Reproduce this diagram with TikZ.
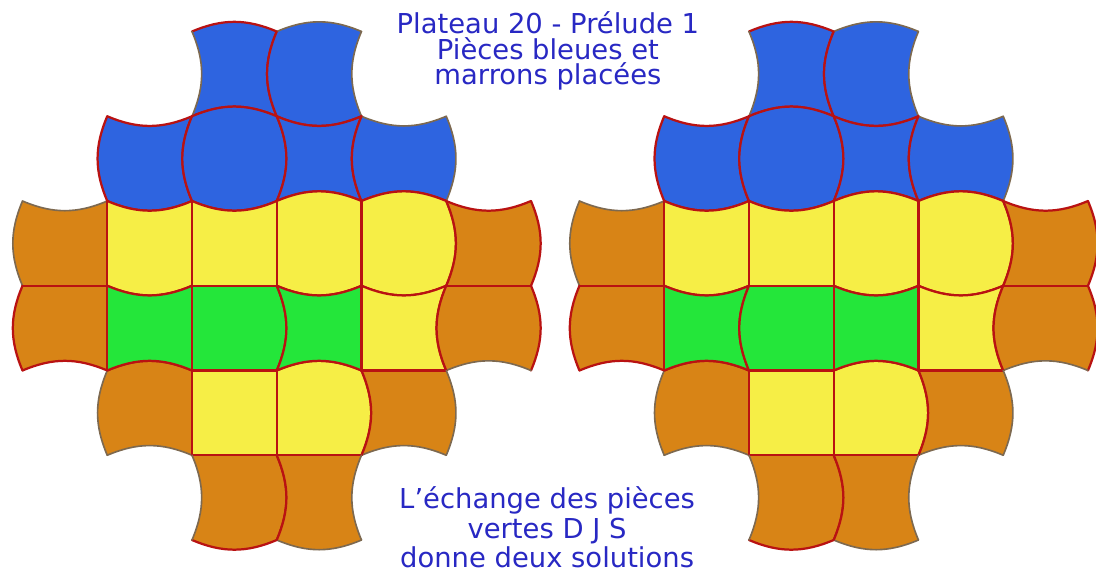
\documentclass[tikz,border=0pt]{standalone}
\usepackage{fontspec}
\setmainfont{DejaVu Sans}
\usepackage{xcolor}
\usepackage{tikz}
\definecolor{tileblue}{RGB}{46,100,224}
\definecolor{tileyellow}{RGB}{246,238,70}
\definecolor{tilegreen}{RGB}{36,230,58}
\definecolor{tilebrown}{RGB}{216,132,22}
\definecolor{edgered}{RGB}{185,18,18}
\definecolor{rimgrey}{RGB}{125,105,80}
\definecolor{textblue}{RGB}{40,40,195}
\tikzset{
	vx/.style={bend left=23},
	cc/.style={bend right=23},
	st/.style={},
	rim/.style={},
	blu/.style={fill=tileblue},
	yel/.style={fill=tileyellow},
	grn/.style={fill=tilegreen},
	brn/.style={fill=tilebrown},
	seam/.style={draw=edgered, line width=0.75pt, line cap=round},
	txt/.style={text=textblue, align=center, inner sep=0pt},
}
% #1,#2 top-left corner, #3 colour, #4..#7 top, right, bottom, left
\newcommand{\tuile}[7]{%
	\fill[#3] (#1,#2) to[#4] ++(1,0) to[#5] ++(0,-1) to[#6] ++(-1,0) to[#7] ++(0,1) -- cycle;
	\draw[seam, rim/.style={draw=rimgrey, line width=0.55pt}, #4] (#1,#2) to ++(1,0);
	\draw[seam, rim/.style={draw=rimgrey, line width=0.55pt}, #5] (#1+1,#2) to ++(0,-1);
	\draw[seam, rim/.style={draw=rimgrey, line width=0.55pt}, #6] (#1+1,#2-1) to ++(-1,0);
	\draw[seam, rim/.style={draw=rimgrey, line width=0.55pt}, #7] (#1,#2-1) to ++(0,1);
}
% pieces common to both boards
\newcommand{\communes}{%
	\tuile{2}{6}{blu}{vx}{cc}{cc}{cc,rim}
	\tuile{3}{6}{blu}{vx,rim}{cc,rim}{vx}{vx}
	\tuile{1}{5}{blu}{cc}{cc}{vx}{vx}
	\tuile{2}{5}{blu}{vx}{vx}{vx}{vx}
	\tuile{3}{5}{blu}{cc}{cc}{cc}{cc}
	\tuile{4}{5}{blu}{cc,rim}{vx,rim}{cc}{vx}
	\tuile{0}{4}{brn}{cc,rim}{st}{st}{vx,rim}
	\tuile{1}{4}{yel}{cc}{st}{vx}{st}
	\tuile{2}{4}{yel}{cc}{st}{st}{st}
	\tuile{3}{4}{yel}{vx}{st}{vx}{st}
	\tuile{4}{4}{yel}{vx}{vx}{vx}{st}
	\tuile{5}{4}{brn}{cc}{vx}{st}{cc}
	\tuile{0}{3}{brn}{st}{st}{cc}{vx}
	\tuile{4}{3}{yel}{cc}{cc}{st}{st}
	\tuile{5}{3}{brn}{st}{vx}{cc,rim}{vx}
	\tuile{1}{2}{brn}{vx}{st}{cc,rim}{vx,rim}
	\tuile{2}{2}{yel}{st}{st}{st}{st}
	\tuile{3}{2}{yel}{vx}{vx}{st}{st}
	\tuile{4}{2}{brn}{st}{vx,rim}{cc,rim}{cc}
	\tuile{2}{1}{brn}{st}{vx}{vx}{cc,rim}
	\tuile{3}{1}{brn}{st}{cc,rim}{vx,rim}{cc}
}

\begin{document}
\begin{tikzpicture}[x=1cm, y=1cm]
	\useasboundingbox (-0.2655,-0.472) rectangle (12.667,6.372);
	% first solution
	\begin{scope}
		\communes
		\tuile{1}{3}{grn}{cc}{st}{cc}{st}
		\tuile{2}{3}{grn}{st}{vx}{st}{st}
		\tuile{3}{3}{grn}{cc}{st}{cc}{cc}
	\end{scope}
	% second solution, green pieces exchanged
	\begin{scope}[xshift=6.572cm]
		\communes
		\tuile{1}{3}{grn}{cc}{cc}{cc}{st}
		\tuile{2}{3}{grn}{st}{st}{st}{vx}
		\tuile{3}{3}{grn}{cc}{st}{cc}{st}
	\end{scope}
	\node[txt, font=\fontsize{9.2}{8.6}\selectfont] at (6.20,5.77) (titre) {Plateau 20 - Prélude 1\\Pièces bleues et\\marrons placées};
	\node[txt, font=\fontsize{9.2}{10}\selectfont] at (6.19,0.15) (note) {L'échange des pièces\\vertes D J S\\donne deux solutions};
\end{tikzpicture}
\end{document}
